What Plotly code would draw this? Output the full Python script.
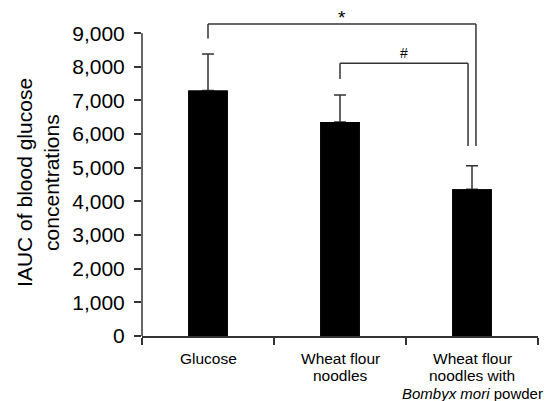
import plotly.graph_objects as go

categories = [["Glucose"], ["Wheat flour", "noodles"], ["Wheat flour", "noodles with", "<i>Bombyx mori</i> powder"]]
means = [7300, 6360, 4360]
sd_plus = [1080, 800, 700]
y_ticks = [0, 1000, 2000, 3000, 4000, 5000, 6000, 7000, 8000, 9000]
y_ticklabels = ["0", "1,000", "2,000", "3,000", "4,000", "5,000", "6,000", "7,000", "8,000", "9,000"]
y_title_lines = ["IAUC of blood glucose", "concentrations"]

# significance brackets: (x_left, x_right, y_top, y_left_end, y_right_end, label)
brackets = [
    (0, 2.03, 9275, 8840, 5650, "*"),
    (1, 1.97, 8110, 7640, 5650, "#"),
]

FONT = "Arial, Liberation Sans, sans-serif"
LINE = "#333333"

fig = go.Figure()
fig.add_trace(go.Bar(
    x=[0, 1, 2], y=means, width=0.3,
    marker=dict(color="black", line=dict(width=0)),
    error_y=dict(type="data", symmetric=False, array=sd_plus, arrayminus=[0, 0, 0],
                 color=LINE, thickness=1.5, width=6),
))
# overlay identical bars to hide the lower error-bar caps
fig.add_trace(go.Bar(
    x=[0, 1, 2], y=means, width=0.3,
    marker=dict(color="black", line=dict(width=0)),
))

shapes = []
for xl, xr, yt, yl, yr, lab in brackets:
    pts = [(xl, yl), (xl, yt), (xr, yt), (xr, yr)]
    for (x0, y0), (x1, y1) in zip(pts[:-1], pts[1:]):
        shapes.append(dict(type="line", xref="x", yref="y", x0=x0, y0=y0, x1=x1, y1=y1,
                           line=dict(color=LINE, width=1.5)))
    fig.add_annotation(x=(xl + xr) / 2, y=yt, text=lab, showarrow=False, yanchor="middle",
                       yshift=6 if lab == "*" else 10,
                       font=dict(family=FONT, size=19 if lab == "*" else 14, color="black"))

# y axis line from 0 to 9000
shapes.append(dict(type="line", xref="paper", yref="y", x0=0, x1=0, y0=0, y1=y_ticks[-1],
                   line=dict(color=LINE, width=1.5)))

# page body has an 8px margin, so the figure is sized/offset to compensate
fig.update_layout(
    width=546, height=393,
    margin=dict(l=134, r=16, t=5, b=65, autoexpand=False),
    paper_bgcolor="white", plot_bgcolor="white",
    showlegend=False, barmode="overlay",
    shapes=shapes,
    font=dict(family=FONT, color="black"),
    xaxis=dict(
        range=[-0.5, 2.5], tickmode="array", tickvals=[-0.5, 0.5, 1.5, 2.5], ticktext=["", "", "", ""],
        ticks="outside", ticklen=7, tickwidth=1.5, tickcolor=LINE, automargin=False,
        showline=True, linecolor=LINE, linewidth=1.5, showgrid=False, zeroline=False,
    ),
    yaxis=dict(
        range=[0, 9600], tickmode="array", tickvals=y_ticks, ticktext=y_ticklabels,
        ticks="outside", ticklen=7, tickwidth=1.5, tickcolor=LINE, automargin=False,
        showline=False, showgrid=False, zeroline=False, ticklabelstandoff=5,
        tickfont=dict(size=21, color="black"),
    ),
)

# y axis title (two lines, rotated)
for j, line in enumerate(y_title_lines):
    fig.add_annotation(x=0, y=0.474, xref="paper", yref="paper", text=line, textangle=-90,
                       showarrow=False, xanchor="center", yanchor="middle",
                       xshift=-117 + 27 * j, font=dict(size=21, color="black", family=FONT))

# category labels, line by line
for i, lines in enumerate(categories):
    for j, line in enumerate(lines):
        fig.add_annotation(x=i, y=0, xref="x", yref="y", text=line, showarrow=False,
                           yanchor="middle", yshift=-22 - 17.5 * j,
                           font=dict(size=15 if "<i>" in line else 15.5, color="black", family=FONT))

fig.write_html("out.html")
